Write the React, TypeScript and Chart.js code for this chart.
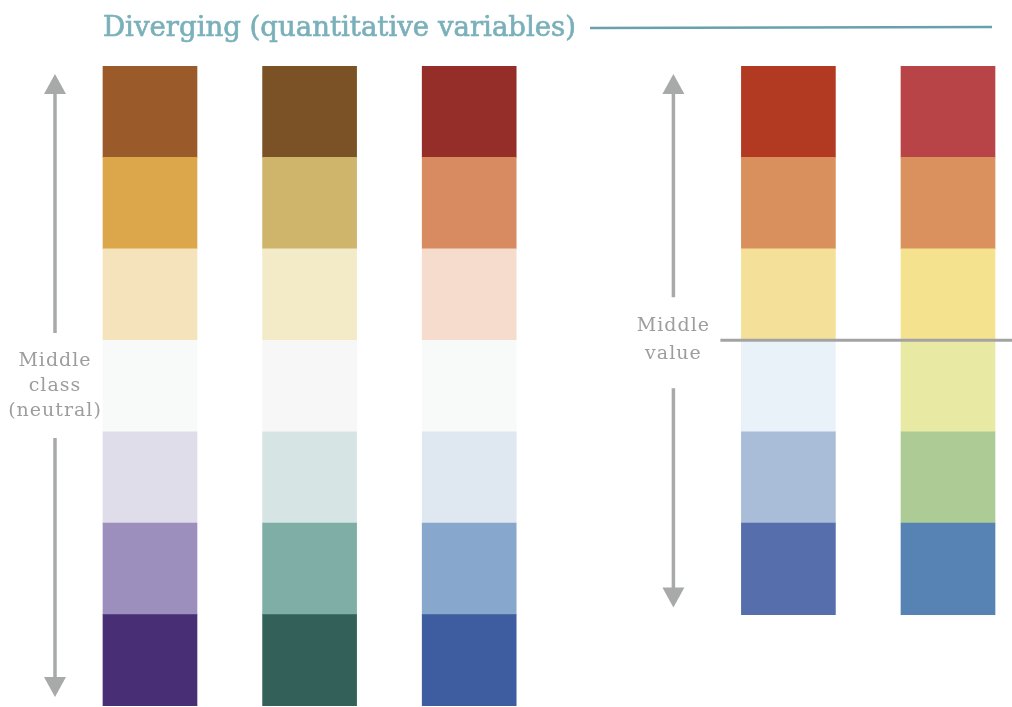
import React, { useEffect, useRef } from "react";
import { Chart, registerables } from "chart.js";

Chart.register(...registerables);

// ---- content ----
const titleText = "Diverging (quantitative variables)";
const leftLabel = ["Middle", "class", "(neutral)"];
const rightLabel = ["Middle", "value"];

// column positions along the x scale (slot 3 is left empty between the two groups)
const columnPositions = [0, 1, 2, 4, 5];
// first class start (in class units) for each column
const columnBase = [0, 0, 0, 1, 1];
// value where the "middle value" divides the continuous schemes
const middleValue = 4;

// colours of each scheme, top class -> bottom class
const brownPurple = ["#9b5a2a", "#dca64a", "#f5e3bb", "#f8faf9", "#dedde9", "#9c8fbd", "#472e75"];
const brownTeal = ["#7b5225", "#cfb46c", "#f3ebc8", "#f8f7f7", "#d6e5e3", "#7eaea6", "#33615a"];
const redBlue7 = ["#952d29", "#d88b61", "#f5dccd", "#f8faf9", "#dfe7f1", "#87a8cc", "#3d5da0"];
const redBlue6 = ["#b33a22", "#da905d", "#f4e098", "#e9f1f9", "#a9bdd8", "#566eab"];
const spectral6 = ["#b84448", "#da915d", "#f4e28f", "#e8eaa3", "#adcb94", "#5683b4"];
const schemes = [brownPurple, brownTeal, redBlue7, redBlue6, spectral6];

const GREY = "#a8a9a9";
const TITLE_COLOR = "#7ab0ba";
const TITLE_LINE = "#67a1ab";

function drawArrowHead(ctx: CanvasRenderingContext2D, x: number, tipY: number, dir: number) {
  const h = 20;
  const w = 11;
  ctx.beginPath();
  ctx.moveTo(x, tipY);
  ctx.lineTo(x - w, tipY + dir * h);
  ctx.lineTo(x + w, tipY + dir * h);
  ctx.closePath();
  ctx.fill();
}

function drawFitted(ctx: CanvasRenderingContext2D, text: string, x: number, y: number, width: number) {
  const m = ctx.measureText(text).width;
  const s = width / m;
  ctx.save();
  ctx.translate(x, y);
  ctx.scale(s, 1);
  ctx.fillText(text, 0, 0);
  ctx.lineWidth = 0.6;
  ctx.strokeText(text, 0, 0);
  ctx.restore();
}

const annotations = {
  id: "annotations",
  afterDatasetsDraw(chart: any) {
    const ctx: CanvasRenderingContext2D = chart.ctx;
    const xs = chart.scales.x;
    const ys = chart.scales.y;
    ctx.save();

    // middle value divider across the right group
    const midY = ys.getPixelForValue(middleValue);
    ctx.strokeStyle = "#a3a3a3";
    ctx.lineWidth = 3;
    ctx.beginPath();
    ctx.moveTo(xs.getPixelForValue(4) - 68, midY);
    ctx.lineTo(chart.width, midY);
    ctx.stroke();

    // left arrow
    ctx.fillStyle = GREY;
    ctx.strokeStyle = GREY;
    ctx.lineWidth = 3.5;
    const lx = xs.getPixelForValue(0) - 95;
    const topTip = ys.getPixelForValue(7) + 8;
    const botTip = ys.getPixelForValue(0) - 9;
    const lMid = ys.getPixelForValue(3.5);
    ctx.beginPath();
    ctx.moveTo(lx, topTip + 18);
    ctx.lineTo(lx, lMid - 53);
    ctx.moveTo(lx, lMid + 52);
    ctx.lineTo(lx, botTip - 18);
    ctx.stroke();
    drawArrowHead(ctx, lx, topTip, 1);
    drawArrowHead(ctx, lx, botTip, -1);

    // right arrow
    const rx = xs.getPixelForValue(4) - 115;
    const rTop = ys.getPixelForValue(7) + 8;
    const rBot = ys.getPixelForValue(1) - 7;
    ctx.beginPath();
    ctx.moveTo(rx, rTop + 18);
    ctx.lineTo(rx, midY - 43);
    ctx.moveTo(rx, midY + 48);
    ctx.lineTo(rx, rBot - 18);
    ctx.stroke();
    drawArrowHead(ctx, rx, rTop, 1);
    drawArrowHead(ctx, rx, rBot, -1);

    // labels
    ctx.fillStyle = "#9d9d9d";
    ctx.textAlign = "center";
    ctx.textBaseline = "middle";
    ctx.font = '19px "DejaVu Serif"';
    (ctx as any).letterSpacing = "1px";
    leftLabel.forEach((t, i) => ctx.fillText(t, lx, lMid + (i - 1) * 25));
    rightLabel.forEach((t, i) => ctx.fillText(t, rx, midY + (i === 0 ? -14 : 14)));
    (ctx as any).letterSpacing = "0px";

    // title
    ctx.textAlign = "left";
    ctx.textBaseline = "alphabetic";
    ctx.fillStyle = TITLE_COLOR;
    ctx.strokeStyle = TITLE_COLOR;
    ctx.font = '27px "DejaVu Serif Condensed", "DejaVu Serif"';
    const tx = xs.getPixelForValue(0) - 47;
    drawFitted(ctx, titleText, tx, 36, 473);
    ctx.strokeStyle = TITLE_LINE;
    ctx.lineWidth = 2.5;
    ctx.beginPath();
    ctx.moveTo(590, 28);
    ctx.lineTo(992, 27);
    ctx.stroke();

    ctx.restore();
  },
};

export default function App() {
  const ref = useRef<HTMLCanvasElement>(null);
  useEffect(() => {
    if (!ref.current) return;
    const maxClasses = Math.max(...schemes.map((s) => s.length));
    const datasets = [];
    for (let k = 0; k < maxClasses; k++) {
      const data: any[] = [];
      const colors: string[] = [];
      schemes.forEach((s, c) => {
        if (k < s.length) {
          const lo = columnBase[c] + k;
          data.push({ x: columnPositions[c], y: [lo, lo + 1] });
          colors.push(s[s.length - 1 - k]);
        }
      });
      datasets.push({
        label: "class " + (k + 1),
        data,
        backgroundColor: colors,
        borderWidth: 0,
        grouped: false,
        barThickness: 94,
      });
    }
    const chart = new Chart(ref.current, {
      type: "bar",
      data: { datasets } as any,
      options: {
        responsive: false,
        animation: false,
        devicePixelRatio: 1,
        layout: { padding: { top: 66, bottom: 1, left: 0, right: 0 } },
        plugins: { legend: { display: false }, tooltip: { enabled: false } },
        scales: {
          x: { type: "linear", min: -0.9398, max: 5.401, offset: false, display: false },
          y: { type: "linear", min: 0, max: 7, display: false },
        },
      } as any,
      plugins: [annotations],
    });
    return () => chart.destroy();
  }, []);
  return (
    <div style={{ position: "fixed", left: 0, top: 0, width: 1012, height: 707, background: "#fff" }}>
      <canvas ref={ref} width={1012} height={707} style={{ display: "block" }} />
    </div>
  );
}
